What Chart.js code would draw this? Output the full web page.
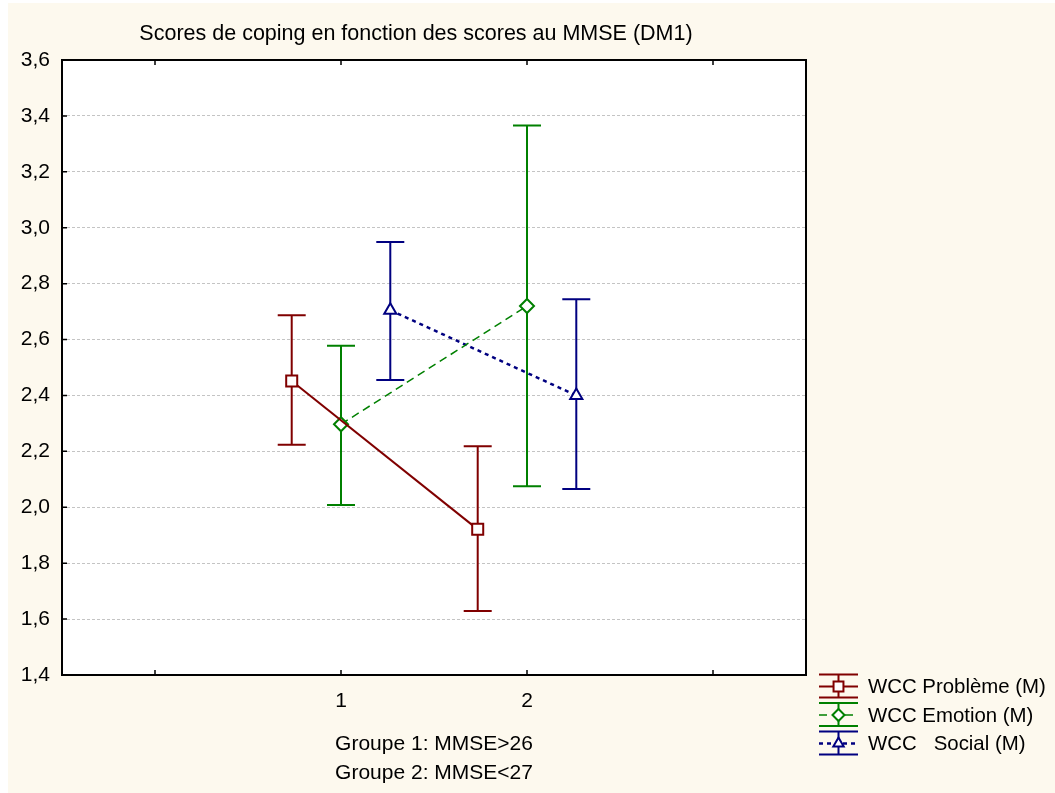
<!DOCTYPE html>
<html>
<head>
<meta charset="utf-8">
<script src="https://cdn.jsdelivr.net/npm/chart.js@4.4.0/dist/chart.umd.min.js"></script>
<style>
body { margin: 0; background: #fff; }
#wrap { position: absolute; left: 8px; top: 3px; width: 1047px; height: 790px; background: #fdf9ee; }
</style>
</head>
<body>
<div id="wrap"><canvas id="coping"></canvas></div>
<script>
let chartTitle = "Scores de coping en fonction des scores au MMSE (DM1)";
let groups = [1, 2];
let groupTicks = [0, 1, 2, 3];
let groupLabels = ["1", "2"];
let axisTitle = ["Groupe 1: MMSE>26", "Groupe 2: MMSE<27"];
let seriesNames = ["WCC Problème (M)", "WCC Emotion (M)", "WCC   Social (M)"];

let problemeMean = [2.452, 1.921];
let problemeLow = [2.224, 1.629];
let problemeHigh = [2.687, 2.218];

let emotionMean = [2.297, 2.72];
let emotionLow = [2.008, 2.075];
let emotionHigh = [2.578, 3.366];

let socialMean = [2.705, 2.40];
let socialLow = [2.455, 2.065];
let socialHigh = [2.949, 2.744];

let font = "'Liberation Sans', Arial, sans-serif";

// look of each series: colour, shift from the group position, marker, line
let series = [
	{ name: seriesNames[0], mean: problemeMean, low: problemeLow, high: problemeHigh,
	  color: "#800000", shift: -0.265, marker: "rect", radius: 7.8, legendRadius: 7, dash: [], width: 2 },
	{ name: seriesNames[1], mean: emotionMean, low: emotionLow, high: emotionHigh,
	  color: "#008000", shift: 0, marker: "rectRot", radius: 7, legendRadius: 6, dash: [8, 5], width: 1.5 },
	{ name: seriesNames[2], mean: socialMean, low: socialLow, high: socialHigh,
	  color: "#000080", shift: 0.265, marker: "triangle", radius: 7, legendRadius: 6, dash: [4, 4], width: 2.5 }
];

let datasets = series.map(function(s) {
	return {
		label: s.name,
		data: groups.map(function(g, i) { return { x: g + s.shift, y: s.mean[i] }; }),
		showLine: true,
		borderColor: s.color,
		borderWidth: s.width,
		borderDash: s.dash,
		pointStyle: s.marker,
		pointRadius: s.radius,
		pointBorderWidth: 2,
		pointBorderColor: s.color,
		pointBackgroundColor: "#ffffff"
	};
});

let framePlugin = {
	id: "frame",
	beforeDraw: function(chart) {
		let a = chart.chartArea, ctx = chart.ctx;
		ctx.save();
		ctx.fillStyle = "#ffffff";
		ctx.fillRect(a.left, a.top, a.right - a.left, a.bottom - a.top);
		ctx.restore();
	},
	beforeDatasetsDraw: function(chart) {
		let ctx = chart.ctx, xs = chart.scales.x, ys = chart.scales.y;
		ctx.save();
		ctx.lineWidth = 2;
		series.forEach(function(s) {
			ctx.strokeStyle = s.color;
			groups.forEach(function(g, i) {
				let x = xs.getPixelForValue(g + s.shift);
				let lo = ys.getPixelForValue(s.low[i]);
				let hi = ys.getPixelForValue(s.high[i]);
				ctx.beginPath();
				ctx.moveTo(x, lo); ctx.lineTo(x, hi);
				ctx.moveTo(x - 14, lo); ctx.lineTo(x + 14, lo);
				ctx.moveTo(x - 14, hi); ctx.lineTo(x + 14, hi);
				ctx.stroke();
			});
		});
		ctx.restore();
	},
	afterDraw: function(chart) {
		let a = chart.chartArea, ctx = chart.ctx, xs = chart.scales.x, ys = chart.scales.y;
		ctx.save();
		ctx.strokeStyle = "#000";
		ctx.lineWidth = 1.5;
		ctx.beginPath();
		ys.ticks.forEach(function(t) {
			let y = ys.getPixelForValue(t.value);
			ctx.moveTo(a.left, y); ctx.lineTo(a.left + 5, y);
		});
		groupTicks.forEach(function(v) {
			let x = xs.getPixelForValue(v);
			ctx.moveTo(x, a.top); ctx.lineTo(x, a.top + 5);
			ctx.moveTo(x, a.bottom); ctx.lineTo(x, a.bottom - 5);
		});
		ctx.stroke();
		ctx.lineWidth = 2;
		ctx.strokeRect(a.left, a.top, a.right - a.left, a.bottom - a.top);

		ctx.fillStyle = "#000";
		ctx.font = "21.5px " + font;
		ctx.textAlign = "center";
		ctx.textBaseline = "alphabetic";
		ctx.fillText(chartTitle, 408, 37);

		// legend
		let lx = 811, rx = 850, cx = 830.5;
		series.forEach(function(s, i) {
			let my = 683.5 + i * 28.5;
			ctx.strokeStyle = s.color;
			ctx.lineWidth = 2;
			ctx.setLineDash([]);
			ctx.beginPath();
			ctx.moveTo(lx, my - 12); ctx.lineTo(rx, my - 12);
			ctx.moveTo(lx, my + 11); ctx.lineTo(rx, my + 11);
			ctx.moveTo(cx, my - 12); ctx.lineTo(cx, my + 11);
			ctx.stroke();
			ctx.lineWidth = s.width;
			ctx.setLineDash(s.dash);
			ctx.beginPath();
			ctx.moveTo(lx, my); ctx.lineTo(rx, my);
			ctx.stroke();
			ctx.setLineDash([]);
			ctx.fillStyle = "#ffffff";
			ctx.lineWidth = 2;
			Chart.helpers.drawPoint(ctx, { pointStyle: s.marker, radius: s.legendRadius, borderWidth: 2, rotation: 0 }, cx, my);
			ctx.fillStyle = "#000";
			ctx.font = "20.4px " + font;
			ctx.textAlign = "left";
			ctx.textBaseline = "middle";
			ctx.fillText(s.name, 860, my + 1);
		});
		ctx.restore();
	}
};

let ctx = document.getElementById("coping").getContext("2d");
let chart = new Chart(ctx, {
	type: "scatter",
	data: { datasets: datasets },
	options: {
		responsive: true,
		maintainAspectRatio: false,
		animation: false,
		layout: { padding: { left: 0, top: 57, right: 249, bottom: 0 } },
		plugins: {
			legend: { display: false },
			tooltip: { enabled: false },
			title: { display: false }
		},
		scales: {
			x: {
				type: "linear",
				min: -0.5,
				max: 3.5,
				afterBuildTicks: function(scale) {
					scale.ticks = groupTicks.map(function(v) { return { value: v }; });
				},
				afterFit: function(scale) { scale.height = 118; },
				grid: { display: false, drawTicks: false },
				border: { display: false },
				ticks: {
					autoSkip: false,
					maxRotation: 0,
					padding: 14,
					color: "#000",
					font: { family: font, size: 21 },
					callback: function(v) {
						let i = groups.indexOf(v);
						return i >= 0 ? groupLabels[i] : "";
					}
				},
				title: {
					display: true,
					text: axisTitle,
					color: "#000",
					font: { family: font, size: 21, lineHeight: 1.4 },
					padding: { top: 0, bottom: 5 }
				}
			},
			y: {
				min: 1.4,
				max: 3.6,
				afterFit: function(scale) { scale.width = 54; },
				grid: { color: "#c4c4c4", lineWidth: 1, drawTicks: false },
				border: { display: false, dash: [3, 2] },
				ticks: {
					stepSize: 0.2,
					padding: 12,
					color: "#000",
					font: { family: font, size: 21 },
					callback: function(v) { return v.toFixed(1).replace(".", ","); }
				}
			}
		}
	},
	plugins: [framePlugin]
});
</script>
</body>
</html>
